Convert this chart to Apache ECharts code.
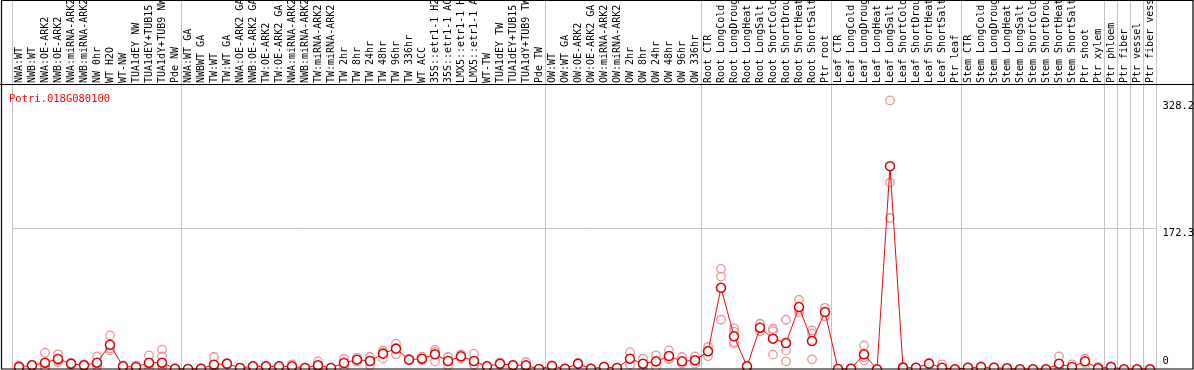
<!DOCTYPE html>
<html>
<head>
<meta charset="utf-8">
<script src="https://cdn.jsdelivr.net/npm/echarts@6/dist/echarts.min.js"></script>
<style>
  html, body { margin: 0; padding: 0; background: #fff; }
  #chart { width: 1194px; height: 370px; }
</style>
</head>
<body>
<div id="chart"></div>
<script>
// Potri.018G080100 表达谱：各样本均值折线 + 生物学重复散点
const GENE = 'Potri.018G080100';

// 样本分组大小（分组之间画灰色竖线）
const GROUP_SIZES = [13, 28, 12, 10, 10, 11, 1, 1, 1, 1];

const SAMPLES = [
  'NWA:WT', 'NWB:WT', 'NWA:OE-ARK2', 'NWB:OE-ARK2', 'NWA:miRNA-ARK2', 'NWB:miRNA-ARK2',
  'NW 0hr', 'WT H2O', 'WT-NW', 'TUA1dEY NW', 'TUA1dEY+TUB15 NW', 'TUA1dY+TUB9 NW', 'Pde NW',
  'NWA:WT GA', 'NWBWT GA', 'TW:WT', 'TW:WT GA', 'NWA:OE-ARK2 GA', 'NWB:OE-ARK2 GA',
  'TW:OE-ARK2', 'TW:OE-ARK2 GA', 'NWA:miRNA-ARK2', 'NWB:miRNA-ARK2', 'TW:miRNA-ARK2', 'TW:miRNA-ARK2',
  'TW 2hr', 'TW 8hr', 'TW 24hr', 'TW 48hr', 'TW 96hr', 'TW 336hr', 'WT ACC',
  '35S::etr1-1 H2O', '35S::etr1-1 ACC', 'LMX5::etr1-1 H2O', 'LMX5::etr1-1 ACC',
  'WT-TW', 'TUA1dEY TW', 'TUA1dEY+TUB15 TW', 'TUA1dY+TUB9 TW', 'Pde TW',
  'OW:WT', 'OW:WT GA', 'OW:OE-ARK2', 'OW:OE-ARK2 GA', 'OW:miRNA-ARK2', 'OW:miRNA-ARK2',
  'OW 2hr', 'OW 8hr', 'OW 24hr', 'OW 48hr', 'OW 96hr', 'OW 336hr',
  'Root CTR', 'Root LongCold', 'Root LongDrought', 'Root LongHeat', 'Root LongSalt',
  'Root ShortCold', 'Root ShortDrought', 'Root ShortHeat', 'Root ShortSalt', 'Ptr root',
  'Leaf CTR', 'Leaf LongCold', 'Leaf LongDrought', 'Leaf LongHeat', 'Leaf LongSalt',
  'Leaf ShortCold', 'Leaf ShortDrought', 'Leaf ShortHeat', 'Leaf ShortSalt', 'Ptr leaf',
  'Stem CTR', 'Stem LongCold', 'Stem LongDrought', 'Stem LongHeat', 'Stem LongSalt',
  'Stem ShortCold', 'Stem ShortDrought', 'Stem ShortHeat', 'Stem ShortSalt', 'Ptr shoot',
  'Ptr xylem', 'Ptr phloem', 'Ptr fiber', 'Ptr vessel', 'Ptr fiber vessel',
];

// 均值
const MEANS = [
  2.8, 4.9, 8.1, 12.6, 6.9, 4.9, 8.1, 30.0, 3.6, 2.8, 8.1, 8.1, 0.8,
  0.4, 0.8, 5.7, 6.9, 1.6, 3.6, 3.6, 3.6, 3.6, 1.6, 4.9, 1.6,
  7.7, 11.8, 10.1, 19.1, 25.2, 11.8, 13.0, 18.3, 10.1, 15.8, 10.1,
  3.6, 6.9, 4.9, 4.9, 0.4,
  4.1, 0.8, 6.9, 0.8, 2.8, 1.6, 13.0, 6.9, 9.7, 16.2, 9.7, 11.0,
  21.9, 99.5, 40.2, 3.6, 50.8, 37.4, 32.0, 75.9, 34.5, 69.8,
  0.4, 0.8, 18.3, 0.0, 248.0, 2.0, 2.0, 6.9, 2.0, 0.0,
  2.0, 2.8, 2.0, 1.2, 0.0, 0.0, 0.0, 6.9, 2.8, 9.7,
  1.2, 2.8, 0.0, 0.0, 0.0,
];

const REPLICATES = [
  [4.5, 2.8, 1.0], [5.5, 4.9, 4.2], [20.3, 2.8, 1.2], [18.3, 8.9, 10.6], [8.1, 5.5, 7.0],
  [6.1, 3.6], [15.8, 4.9, 2.8], [41.4, 23.1, 25.5], [4.9, 2.4], [4.5, 1.0],
  [17.0, 6.1, 1.0], [24.0, 15.8, 4.9, 2.8], [1.0, 0.6],
  [0.6, 0.2], [1.2, 0.4], [15.0, 2.0], [7.7, 6.1], [2.0, 1.2], [4.1, 3.1],
  [4.5, 2.8], [4.1, 3.1], [6.1, 2.0], [2.0, 1.2], [9.7, 1.6], [2.0, 1.2],
  [13.0, 2.8, 7.3], [14.2, 9.3], [15.0, 4.9, 10.5], [23.1, 13.0, 21.0], [31.3, 18.3, 26.0],
  [12.6, 11.0], [15.4, 11.0], [24.0, 9.7, 21.2], [15.0, 4.9], [18.3, 13.4], [19.1, 4.9, 6.3],
  [4.5, 2.8], [8.5, 5.3], [5.7, 4.1], [8.9, 1.0], [0.6, 0.2],
  [4.9, 3.3], [1.2, 0.4], [8.1, 5.7], [1.2, 0.4], [3.6, 2.0], [2.0, 1.2],
  [21.0, 5.7, 12.3], [13.0, 2.0, 5.7], [17.0, 2.8, 9.3], [23.1, 13.0, 12.5], [15.0, 6.9, 7.2],
  [15.8, 6.9, 10.3],
  [27.2, 15.8, 22.7], [122.6, 113.2, 60.5], [50.3, 33.2, 31.3, 46.0], [4.5, 2.0], [55.6, 46.3, 50.5],
  [49.5, 46.6, 17.9], [60.5, 23.1, 9.7], [84.9, 70.0, 72.8], [47.5, 12.2, 43.8], [75.1, 64.5],
  [0.6, 0.2], [1.2, 0.4], [29.2, 11.0, 14.6], [0.2, 0.0], [328.2, 228.0, 184.7],
  [3.6, 0.4], [2.4, 1.6], [8.1, 5.7], [6.1, 0.4], [0.2],
  [2.4, 1.6], [3.6, 2.0], [2.4, 1.6], [1.6, 0.8], [0.2, 0.0], [0.2, 0.0], [0.2, 0.0],
  [15.8, 1.2, 3.7], [6.1, 0.4], [13.0, 6.9],
  [3.0], [3.6], [0.2], [0.2], [0.2],
];

const FONT = '"DejaVu Sans Mono", "Liberation Mono", monospace';
const GRID_LINE = '#c4c4c4';

// 分组起点 -> 竖线位置
const groupStarts = new Set();
GROUP_SIZES.reduce((acc, n) => { groupStarts.add(acc); return acc + n; }, 0);
const isGroupStart = idx => groupStarts.has(idx);

const repMax = Math.max(...REPLICATES.flat());
const yMax = repMax * 1.05;

const replicatePoints = [];
REPLICATES.forEach((reps, i) => reps.forEach(v => replicatePoints.push([i, v])));

const chart = echarts.init(document.getElementById('chart'), null, { renderer: 'canvas' });

chart.setOption({
  animation: false,
  backgroundColor: '#fff',
  title: {
    text: GENE, left: 4, top: 89,
    textStyle: { color: '#ff0000', fontFamily: FONT, fontSize: 10.5, fontWeight: 'normal' },
  },
  grid: [
    { left: 12.5, right: 37.5, top: 0, height: 87, outerBoundsMode: 'none', containLabel: false },
    { left: 12.5, right: 37.5, top: 87, bottom: 0.7, outerBoundsMode: 'none', containLabel: false },
  ],
  xAxis: [
    {
      gridIndex: 0, type: 'category', data: SAMPLES,
      axisLine: { show: false }, axisTick: { show: false }, axisLabel: { show: false },
      splitLine: { show: true, interval: isGroupStart, lineStyle: { color: GRID_LINE, width: 1 } },
    },
    {
      gridIndex: 1, type: 'category', data: SAMPLES, position: 'top',
      axisLine: { show: false }, axisTick: { show: false },
      axisLabel: {
        interval: 0, rotate: 90, margin: 4,
        color: '#000', fontFamily: FONT, fontSize: 10,
      },
      splitLine: { show: true, interval: isGroupStart, lineStyle: { color: GRID_LINE, width: 1 } },
    },
  ],
  yAxis: [
    { gridIndex: 0, type: 'value', show: false },
    {
      gridIndex: 1, type: 'value', position: 'right', min: 0, max: yMax, interval: yMax / 2,
      axisLine: { show: false }, axisTick: { show: false },
      splitLine: { show: true, showMinLine: false, showMaxLine: false, lineStyle: { color: GRID_LINE } },
      axisLabel: {
        customValues: [yMax / 2, repMax], verticalAlign: 'top', margin: 6,
        color: '#000', fontFamily: FONT, fontSize: 10.5,
        formatter: v => v.toFixed(1),
      },
    },
    {
      gridIndex: 1, type: 'value', position: 'right', min: 0, max: yMax,
      axisLine: { show: false }, axisTick: { show: false }, splitLine: { show: false },
      axisLabel: {
        customValues: [0], verticalAlign: 'bottom', margin: 6, padding: [0, 0, 3, 0],
        color: '#000', fontFamily: FONT, fontSize: 10.5,
        formatter: v => String(v),
      },
    },
  ],
  series: [
    {
      name: 'replicates', type: 'scatter', xAxisIndex: 1, yAxisIndex: 1,
      data: replicatePoints,
      symbol: 'circle', symbolSize: 8.5,
      itemStyle: { color: 'rgba(255,255,255,0)', borderColor: '#f09494', borderWidth: 1.3, opacity: 1 },
      z: 2,
    },
    {
      name: 'mean', type: 'line', xAxisIndex: 1, yAxisIndex: 1,
      data: MEANS,
      symbol: 'circle', symbolSize: 9, showAllSymbol: true,
      lineStyle: { color: '#ff0000', width: 1 },
      itemStyle: { color: '#fff', borderColor: '#dd0000', borderWidth: 1.5 },
      z: 3,
    },
  ],
  graphic: [
    { type: 'rect', silent: true, z: 100,
      shape: { x: 1.5, y: 0.5, width: 1191.5, height: 368.5 },
      style: { fill: null, stroke: '#000', lineWidth: 1.2 } },
    { type: 'line', silent: true, z: 100,
      shape: { x1: 0, y1: 84.5, x2: 1194, y2: 84.5 },
      style: { stroke: '#000', lineWidth: 1.2 } },
  ],
});
</script>
</body>
</html>
